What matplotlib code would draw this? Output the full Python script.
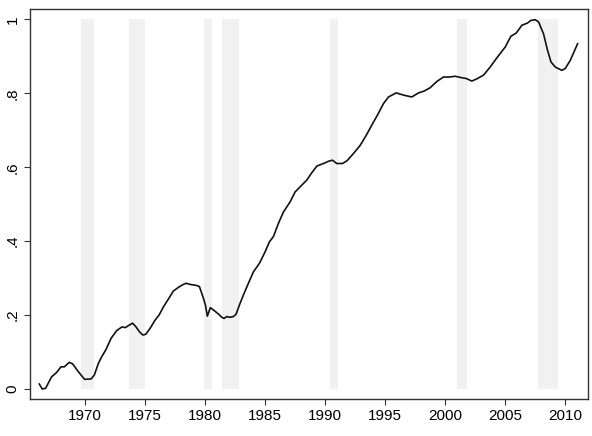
import matplotlib
matplotlib.use("Agg")
import matplotlib.pyplot as plt

plt.rcParams['font.family'] = ['Liberation Sans', 'DejaVu Sans']

# recession bands (start, end)
rec_start = [1969.67, 1973.69, 1979.92, 1981.44, 1990.44, 2001.0, 2007.75]
rec_end = [1970.78, 1975.03, 1980.56, 1982.81, 1991.06, 2001.81, 2009.36]

# series
years = [1966.19, 1966.44, 1966.72, 1967.22, 1967.64, 1968.0, 1968.28, 1968.69, 1968.97,
         1969.44, 1969.97, 1970.28, 1970.5, 1970.78, 1971.11, 1971.39, 1971.75, 1972.17,
         1972.64, 1973.08, 1973.36, 1973.64, 1973.97, 1974.25, 1974.53, 1974.81, 1975.06,
         1975.42, 1975.83, 1976.17, 1976.53, 1976.94, 1977.36, 1977.78, 1978.14, 1978.42,
         1978.75, 1979.31, 1979.53, 1979.81, 1980.03, 1980.19, 1980.44, 1980.69, 1981.11,
         1981.39, 1981.58, 1981.81, 1982.08, 1982.36, 1982.58, 1982.86, 1983.19, 1983.61,
         1984.03, 1984.53, 1985.0, 1985.36, 1985.69, 1986.11, 1986.53, 1987.08, 1987.5,
         1987.92, 1988.47, 1988.89, 1989.31, 1989.86, 1990.28, 1990.61, 1990.97, 1991.44,
         1991.81, 1992.36, 1992.92, 1993.42, 1993.89, 1994.36, 1994.86, 1995.28, 1995.92,
         1996.53, 1997.22, 1997.78, 1998.25, 1998.75, 1999.31, 1999.86, 2000.36, 2000.83,
         2001.39, 2001.75, 2002.22, 2002.64, 2003.19, 2003.75, 2004.31, 2005.0, 2005.47,
         2005.92, 2006.39, 2006.86, 2007.14, 2007.5, 2007.78, 2008.19, 2008.53, 2008.81,
         2009.17, 2009.72, 2010.0, 2010.42, 2011.03]
values = [0.0135, 0.0, 0.002, 0.033, 0.045, 0.06, 0.06, 0.072, 0.068,
          0.047, 0.026, 0.027, 0.027, 0.038, 0.069, 0.087, 0.107, 0.137,
          0.158, 0.168, 0.166, 0.172, 0.178, 0.168, 0.155, 0.146, 0.148,
          0.164, 0.186, 0.2, 0.222, 0.243, 0.265, 0.275, 0.282, 0.286,
          0.283, 0.280, 0.277, 0.251, 0.227, 0.197, 0.220, 0.214, 0.203,
          0.194, 0.191, 0.196, 0.194, 0.196, 0.202, 0.227, 0.254, 0.286,
          0.317, 0.34, 0.371, 0.398, 0.412, 0.448, 0.479, 0.506, 0.533,
          0.547, 0.565, 0.585, 0.603, 0.61, 0.616, 0.619, 0.61, 0.61,
          0.617, 0.637, 0.659, 0.686, 0.714, 0.741, 0.772, 0.79, 0.801,
          0.795, 0.79, 0.801, 0.806, 0.815, 0.832, 0.844, 0.844, 0.846,
          0.842, 0.84, 0.833, 0.839, 0.849, 0.871, 0.896, 0.925, 0.954,
          0.963, 0.984, 0.99, 0.997, 0.999, 0.993, 0.961, 0.916, 0.885,
          0.871, 0.862, 0.867, 0.889, 0.934]

xticks = [1970, 1975, 1980, 1985, 1990, 1995, 2000, 2005, 2010]
yticks = [0, 0.2, 0.4, 0.6, 0.8, 1.0]
ylabels = ['0', '.2', '.4', '.6', '.8', '1']

fig = plt.figure(figsize=(5.92, 4.36), dpi=100)
ax = fig.add_axes([0.0507, 0.0849, 0.942, 0.8945])

for s, e in zip(rec_start, rec_end):
    ax.fill_between([s, e], 0, 1, color='#f1f1f1', lw=0, zorder=1)

ax.plot(years, values, color='#111111', lw=1.2, zorder=3)

ax.set_xlim(1965.42, 2011.87)
ax.set_ylim(-0.027, 1.028)
ax.set_xticks(xticks)
ax.set_yticks(yticks)
ax.set_yticklabels(ylabels, rotation=90, va='center')
ax.tick_params(labelsize=11, length=4.5, width=0.8, color='#333333', pad=3)

for sp in ax.spines.values():
    sp.set_color('#333333')
    sp.set_linewidth(1.0)

fig.savefig('out.png', dpi=100)
